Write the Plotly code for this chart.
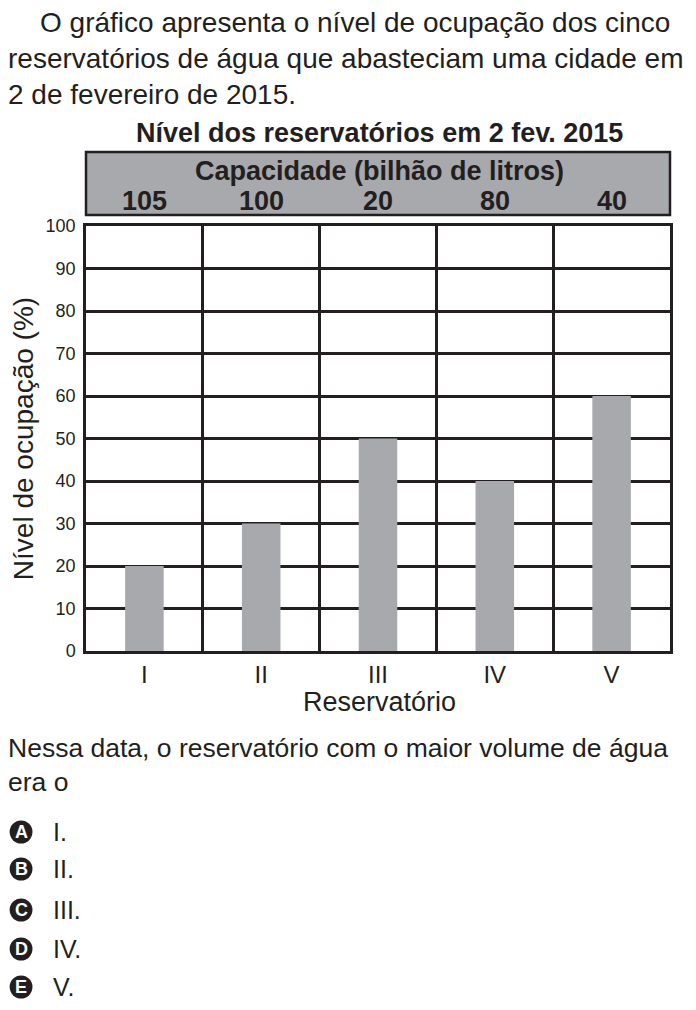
import plotly.graph_objects as go

reservatorios = ["I", "II", "III", "IV", "V"]
nivel = [20, 30, 50, 40, 60]
capacidade = [105, 100, 20, 80, 40]
y_ticks = list(range(0, 101, 10))
opcoes = ["A", "B", "C", "D", "E"]
textos_opcoes = ["I.", "II.", "III.", "IV.", "V."]

# the page body has an 8px margin, so the figure is drawn 8px in
OFF = 8
W, H = 696 - 2 * OFF, 1010 - 2 * OFF
L, R, T, B = 81 - OFF, 670 - OFF, 226 - OFF, 651 - OFF
FONT = "Liberation Sans, Arial"
INK = "#231f20"
GRAY = "#a7a9ac"


def px(x):
    # page pixel -> paper x
    return (x - OFF - L) / (R - L)


def py(y):
    # page pixel -> paper y
    return (B - (y - OFF)) / (B - T)


fig = go.Figure()
fig.add_trace(go.Bar(
    x=reservatorios, y=nivel, marker=dict(color=GRAY, line=dict(width=0)),
    width=0.33, hoverinfo="x+y",
))

fig.update_layout(
    width=W, height=H,
    margin=dict(l=L, r=W - R, t=T, b=H - B),
    paper_bgcolor="white", plot_bgcolor="white",
    showlegend=False,
    font=dict(family=FONT, color=INK),
    xaxis=dict(
        type="category", tickson="boundaries", showgrid=True,
        gridcolor=INK, gridwidth=2.5, showline=True, linecolor=INK,
        linewidth=2.5, mirror=True, ticks="", tickfont=dict(size=24),
        ticklabelstandoff=0,
    ),
    yaxis=dict(
        range=[0, 100], tickvals=y_ticks, showgrid=True, gridcolor=INK,
        gridwidth=2.5, showline=True, linecolor=INK, linewidth=2.5,
        mirror=True, ticks="", tickfont=dict(size=18), zeroline=False,
        ticklabelstandoff=4,
        title=dict(text="Nível de ocupação (%)", font=dict(size=28), standoff=6),
    ),
)

annotations = []
annotations.append(dict(
    x=px(377), y=py(133), xref="paper", yref="paper",
    text="<b>Nível dos reservatórios em 2 fev. 2015</b>",
    showarrow=False, font=dict(size=27), xanchor="center", yanchor="middle",
))
annotations.append(dict(
    x=px(377), y=py(171), xref="paper", yref="paper",
    text="<b>Capacidade (bilhão de litros)</b>",
    showarrow=False, font=dict(size=27), xanchor="center", yanchor="middle",
))
for r, c in zip(reservatorios, capacidade):
    annotations.append(dict(
        x=r, y=py(201), xref="x", yref="paper", text=f"<b>{c}</b>",
        showarrow=False, font=dict(size=27), xanchor="center", yanchor="middle",
    ))
annotations.append(dict(
    x=px(377), y=py(702), xref="paper", yref="paper", text="Reservatório",
    showarrow=False, font=dict(size=27), xanchor="center", yanchor="middle",
))

linhas = [
    (33, 22, 28, "O gráfico apresenta o nível de ocupação dos cinco"),
    (0, 58, 28, "reservatórios de água que abasteciam uma cidade em"),
    (0, 94, 28, "2 de fevereiro de 2015."),
    (0, 748, 26.5, "Nessa data, o reservatório com o maior volume de água"),
    (0, 782, 26.5, "era o"),
]
for x0, y0, size, t in linhas:
    annotations.append(dict(
        x=px(x0), y=py(y0), xref="paper", yref="paper", text=t,
        showarrow=False, font=dict(size=size), xanchor="left", yanchor="middle",
    ))

shapes = [dict(
    type="rect", xref="paper", yref="paper",
    x0=0, x1=1, y0=py(215), y1=py(152),
    fillcolor=GRAY, line=dict(color=INK, width=2.5), layer="below",
)]

ys = [832, 869, 910, 949, 987]
for letra, texto, y0 in zip(opcoes, textos_opcoes, ys):
    shapes.append(dict(
        type="circle", xref="paper", yref="paper",
        x0=px(4), x1=px(27), y0=py(y0 + 11.5), y1=py(y0 - 11.5),
        fillcolor=INK, line=dict(color=INK, width=0),
    ))
    annotations.append(dict(
        x=px(15.5), y=py(y0), xref="paper", yref="paper",
        text=f"<b>{letra}</b>", showarrow=False,
        font=dict(size=18, color="white"),
        xanchor="center", yanchor="middle",
    ))
    annotations.append(dict(
        x=px(46), y=py(y0), xref="paper", yref="paper", text=texto,
        showarrow=False, font=dict(size=25), xanchor="left", yanchor="middle",
    ))

fig.update_layout(annotations=annotations, shapes=shapes)

fig.write_html("out.html")
